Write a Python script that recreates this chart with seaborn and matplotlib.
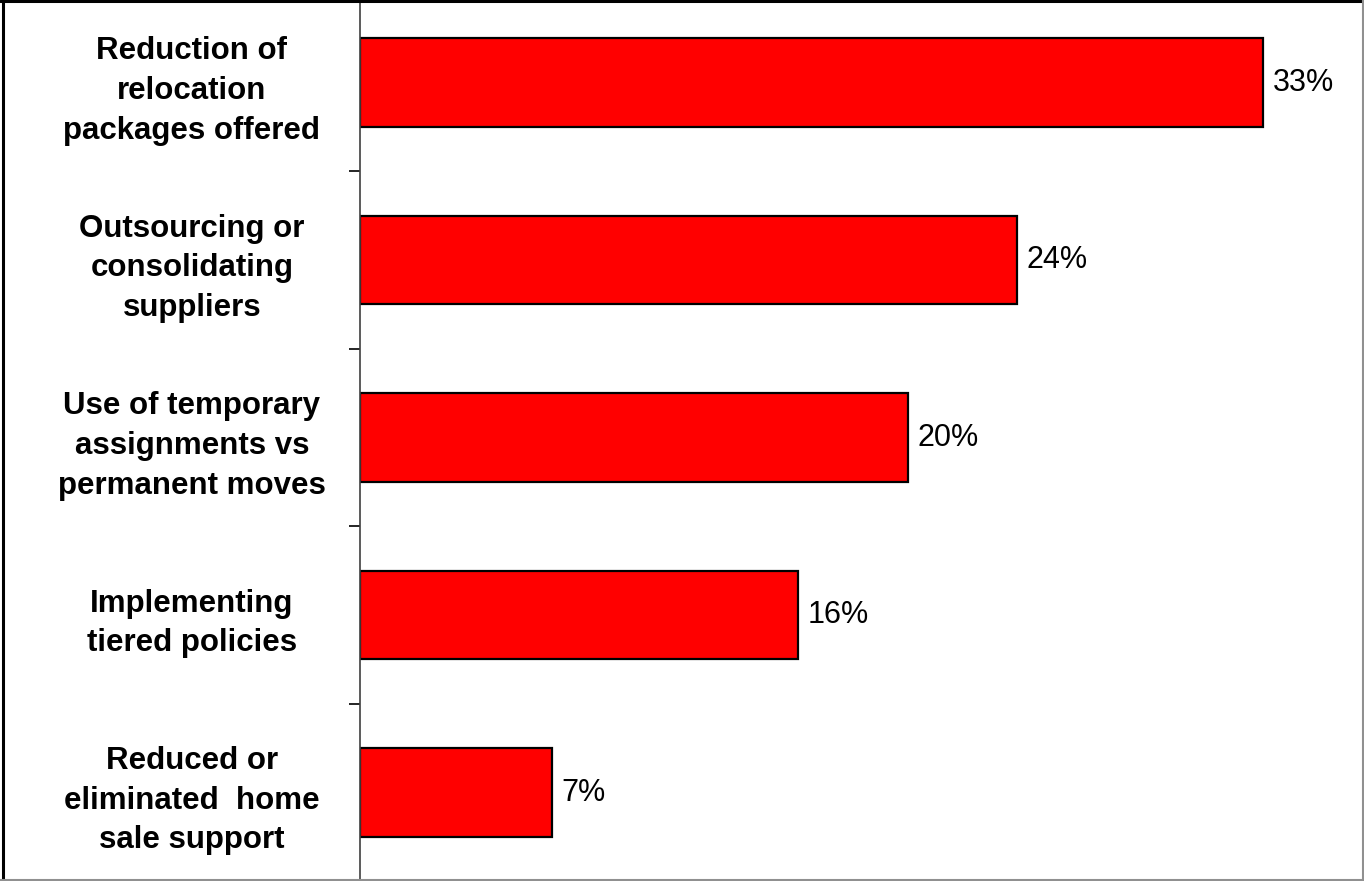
import matplotlib
matplotlib.use("Agg")
import matplotlib.pyplot as plt
from matplotlib.lines import Line2D
import seaborn as sns
import pandas as pd

categories = [
    "Reduction of\nrelocation\npackages offered",
    "Outsourcing or\nconsolidating\nsuppliers",
    "Use of temporary\nassignments vs\npermanent moves",
    "Implementing\ntiered policies",
    "Reduced or\neliminated  home\nsale support",
]
shares = [33, 24, 20, 16, 7]
value_labels = ["33%", "24%", "20%", "16%", "7%"]

df = pd.DataFrame({"category": categories, "share": shares})

sns.set_theme(style="white")
plt.rcParams["font.family"] = ["Liberation Sans", "DejaVu Sans"]

W, H, DPI = 1364, 881, 100
fig = plt.figure(figsize=(W / DPI, H / DPI), dpi=DPI)
ax = fig.add_axes([360 / W, 0, 1002 / W, 1])

sns.barplot(data=df, y="category", x="share", orient="h", color="#FF0000",
            edgecolor="black", linewidth=1.6, width=0.5, saturation=1,
            ax=ax)

n = len(categories)
ax.set_xlim(0, 36.6)
ax.set_ylim(4.4986, -0.465)

# Tick marks between categories, labels centred on each bar
ax.set_yticks([i + 0.5 for i in range(n - 1)])
ax.set_yticklabels([])
ax.set_yticks(range(n), minor=True)
ax.set_yticklabels(categories, minor=True)
ax.tick_params(axis="y", which="major", left=True, length=8, width=1.2,
               color="black", direction="out")
ax.tick_params(axis="y", which="minor", left=False, length=0, pad=121)
for lbl in ax.get_yticklabels(minor=True):
    lbl.set_horizontalalignment("center")
    lbl.set_fontsize(22.5)
    lbl.set_fontweight("bold")
    lbl.set_linespacing(1.42)
    lbl.set_color("black")

ax.set_xticks([])
ax.set_xlabel("")
ax.set_ylabel("")
for side in ["top", "right", "bottom"]:
    ax.spines[side].set_visible(False)
ax.spines["left"].set_color("#404040")
ax.spines["left"].set_linewidth(1.2)

for i, (v, t) in enumerate(zip(shares, value_labels)):
    ax.annotate(t, xy=(v, i), xytext=(7, 0), textcoords="offset points",
                ha="left", va="center", fontsize=22, color="black")

# Frame around the figure
fig.add_artist(Line2D([2.5 / W, 2.5 / W], [0, 1], color="black", lw=2.2,
                      transform=fig.transFigure))
fig.add_artist(Line2D([0, 1], [1 - 1 / H, 1 - 1 / H], color="black", lw=2.2,
                      transform=fig.transFigure))
fig.add_artist(Line2D([1362.5 / W, 1362.5 / W], [0, 1], color="#909090",
                      lw=1.5, transform=fig.transFigure))
fig.add_artist(Line2D([0, 1], [0.7 / H, 0.7 / H], color="#909090", lw=1.5,
                      transform=fig.transFigure))

fig.savefig("out.png", dpi=DPI)
